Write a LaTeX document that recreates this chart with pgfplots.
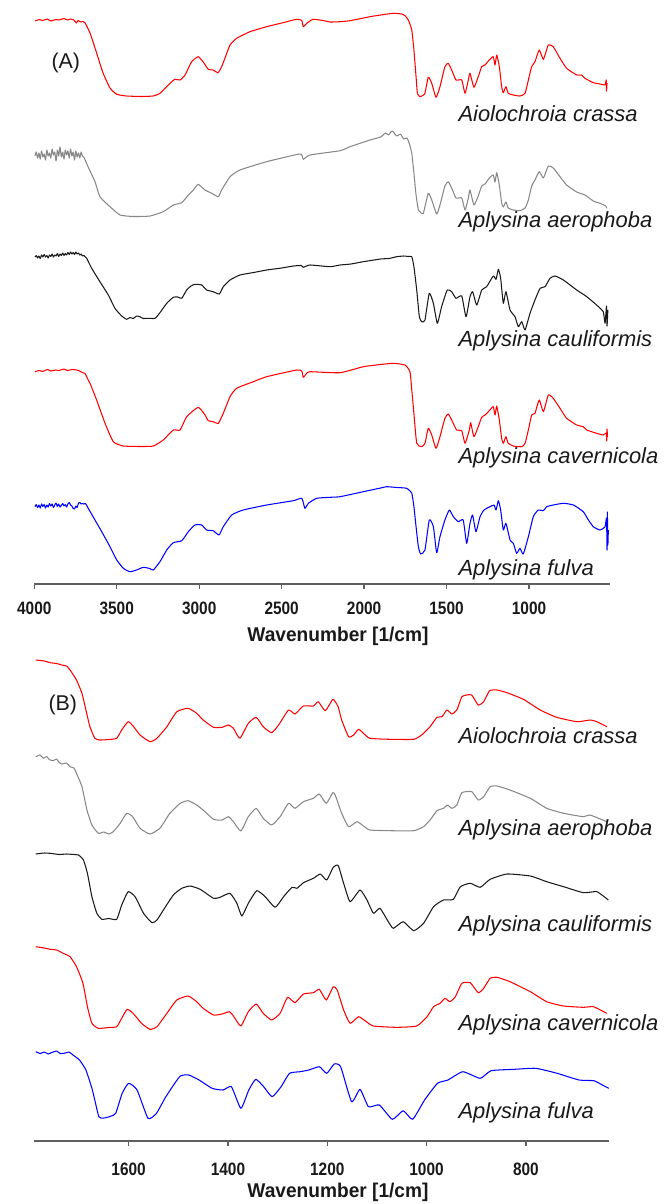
\documentclass[border=0pt]{standalone}
\usepackage{pgfplots}
\pgfplotsset{compat=1.18}
\usepackage{pgfplotstable}
\usepackage{fontspec}
\setmainfont{Liberation Sans}
\newfontfamily\tickfont[FakeStretch=0.86]{Liberation Sans}
\newfontfamily\labfont[FakeStretch=0.96]{Liberation Sans}

\definecolor{sred}{RGB}{255,0,0}
\definecolor{sgray}{RGB}{135,135,135}
\definecolor{sblack}{RGB}{25,25,25}
\definecolor{sblue}{RGB}{0,0,255}
\definecolor{axgray}{RGB}{95,95,95}

% y = row of the picture (px from the top), read off the reference
% panel A: full range
\pgfplotstableread{
w y
3996 21
3970 19.5
3950 20.5
3920 19
3900 21
3870 19.5
3850 20
3820 18.5
3800 20
3780 19
3760 20
3745 23
3735 20.5
3720 22
3705 21.5
3693 22.7
3662 33
3622 53
3583 73
3541 88
3500 94.3
3440 96
3350 96.5
3280 96
3238 93.3
3177 83.3
3147 79.3
3116 80
3086 75
3046 61.7
3006 56.7
2977 61.7
2945 69.3
2916 70
2886 72.7
2864 66.7
2844 58.3
2813 45
2773 38.3
2692 31.7
2591 26.7
2492 22.7
2409 19.3
2378 20.5
2369 26.7
2348 23.3
2310 19.3
2250 20.5
2207 22
2146 21.7
2086 20.7
1964 16.7
1900 15
1823 13.3
1772 14
1750 16
1732 20
1711 30
1698 50
1685 76.7
1677 93.3
1661 96.7
1645 95.5
1631 93.3
1611 77.3
1590 83.3
1564 97.3
1540 86.7
1510 66.7
1490 63.3
1469 70
1443 80
1408 80
1388 93.3
1368 80
1358 73.3
1334 87.3
1308 76.7
1287 66.7
1267 65
1241 60
1217 56.7
1206 65
1196 55
1180 66.7
1166 86.7
1156 92.7
1140 86.7
1126 93.3
1095 95
1055 96
1024 93.3
1004 80
984 66.7
964 61.7
938 50
913 59.3
883 45
853 46.7
812 58.3
772 68.3
711 75
681 75
661 78.3
610 82.7
570 84
539 85
532 80
530 91
527 83
}\tAa

\pgfplotstableread{
w y
3996 156
3988 152
3980 158
3972 153
3964 159
3956 151
3948 157
3940 154
3932 160
3924 150
3916 156
3908 153
3900 158
3892 149
3884 155
3876 152
3868 161
3860 150
3852 156
3844 147
3836 157
3828 152
3820 159
3812 150
3804 155
3796 151
3788 158
3780 149
3772 156
3764 152
3756 160
3748 151
3740 157
3732 153
3724 158
3716 152
3708 156
3700 157
3674 166.7
3632 181.7
3602 196.7
3541 206.7
3480 215
3400 216.5
3298 216
3218 211.7
3157 205
3106 202.7
3066 195
3036 190
3006 184.3
2965 190
2924 193.3
2884 196.7
2864 190
2813 176.7
2753 170
2591 161.7
2389 154
2369 159.3
2328 155
2146 150.7
2086 146.7
1964 140
1900 137
1870 133
1853 135
1830 131
1802 136
1780 134
1760 139
1740 138
1725 144
1711 153.3
1698 173.3
1685 195
1671 210
1661 212
1641 213.3
1611 193.3
1590 200
1560 214
1540 205
1510 186
1490 181.7
1469 188
1443 198
1408 198
1388 210
1368 198
1358 190
1334 205
1308 196
1287 186
1267 184
1241 178
1217 175
1206 182
1196 172.7
1180 185
1166 203
1156 207
1140 202
1126 208
1095 210
1055 210.7
1024 208
1004 200
984 186
964 180
938 171.7
913 178
883 166
853 168
812 176.7
772 185
711 192
661 195
610 201
570 203.3
535 206
529 208.3
}\tAb

\pgfplotstableread{
w y
3996 257
3988 255.5
3980 258
3972 256
3964 258.5
3956 255
3948 257
3940 254.5
3932 257
3924 255.5
3916 258
3908 255
3900 256.5
3892 254
3884 257
3876 255
3868 256
3860 253.5
3852 256.5
3844 254
3836 255.5
3828 253
3820 255.5
3812 253.5
3804 255
3796 252.5
3788 254.5
3780 252
3772 254
3764 252.5
3756 254.5
3748 252
3740 254
3732 253
3724 255
3716 254
3708 256
3700 255.5
3690 257
3682 258.3
3652 268.3
3602 281.7
3551 295
3511 308.3
3470 316
3440 319.3
3420 317.5
3400 318.5
3380 316
3359 316.7
3340 318.5
3309 318.3
3268 318.3
3238 312.7
3197 303.3
3157 297.3
3130 297
3106 298.3
3076 290
3050 286
3026 284.3
2985 285
2955 290
2915 291.7
2878 294
2854 286.7
2813 280
2753 275
2670 272.5
2591 270
2500 268
2429 266
2380 265.5
2369 267.3
2328 265
2207 266.7
2146 265
2080 264
2005 261.7
1900 259
1850 258.5
1802 256.7
1760 256
1730 256.5
1711 256.7
1698 266.7
1681 290
1665 316.7
1651 321.7
1631 320
1605 293.3
1580 303.3
1556 323.3
1530 306.7
1496 290
1469 291.7
1443 298.3
1408 296
1382 316.7
1358 296.7
1342 291.7
1317 305
1287 290
1257 286.7
1217 276
1200 279.3
1186 269.3
1172 278.3
1156 303.3
1140 291.7
1115 310
1085 316.7
1065 326.7
1044 321.7
1024 330
994 313.3
964 300
933 288.3
903 286.7
873 278.3
842 276
792 280
711 290
650 296.7
590 305
550 311.7
539 323.3
530 306
527 326
522 310
}\tAc

\pgfplotstableread{
w y
3996 371.7
3970 370.5
3950 371.5
3920 369.5
3900 371
3870 370
3850 370.5
3820 369
3800 370.5
3770 369.5
3743 370
3725 371
3710 372.5
3693 373.3
3673 380
3662 383.3
3622 400
3571 423.3
3521 441.7
3460 446
3350 446.5
3278 446
3218 440
3157 430
3116 430
3076 416.7
3006 407.3
2965 415
2945 420.7
2915 421.7
2884 423.3
2854 413.3
2813 396.7
2773 388.3
2672 381.7
2591 376.7
2409 370
2378 371
2369 377.3
2348 373.3
2328 371.7
2146 372.7
2005 366.7
1900 364.5
1823 363.3
1752 365
1722 371.7
1711 390
1698 413.3
1681 443.3
1651 446.7
1631 443.3
1611 428.3
1590 435
1564 448.3
1540 436.7
1510 418.3
1490 414
1469 420
1439 430
1408 430.7
1388 443.3
1362 430
1354 422.7
1334 436.7
1308 426.7
1287 417.3
1267 415
1241 410.7
1217 406.7
1206 415
1196 406
1180 420
1166 438.3
1156 443.3
1140 436.7
1126 443.3
1095 446
1044 446.7
1024 443.3
1004 430
984 415
964 413.3
938 400
913 411.7
883 395
853 398.3
812 408.3
772 418.3
711 425
671 426.7
650 430
590 433.3
550 435
532 433
529 441
527 429
524 437
}\tAd

\pgfplotstableread{
w y
3996 506.7
3988 504.5
3980 507.5
3972 505
3964 508
3956 504
3948 506.5
3940 504.5
3932 508
3924 505
3916 507
3908 503.5
3900 506
3892 504
3884 507.5
3876 505
3868 503
3860 506.5
3852 504
3844 507
3836 505.5
3828 503.5
3820 506
3812 504.5
3804 507
3796 504
3788 502.5
3780 505
3772 506
3764 508.5
3756 509
3748 506
3740 507.5
3732 503
3724 502.5
3716 504
3708 503.5
3700 504
3690 503.5
3680 506
3673 508.3
3632 520
3591 531.7
3541 546.7
3500 560
3460 568.3
3420 571.7
3380 570
3339 567.3
3300 568.5
3278 570
3238 561.7
3197 550
3157 542.7
3106 540.7
3066 531.7
3026 525
2985 525
2955 530
2915 530.7
2880 535
2854 526.7
2803 515
2733 510
2591 505
2429 500.7
2378 498.3
2359 508.3
2338 503.3
2288 498.3
2207 497.3
2146 496.7
2005 491.7
1900 488
1863 486.7
1800 487.5
1742 488.3
1711 493.3
1698 506.7
1685 526.7
1671 546.7
1657 554
1631 550
1605 520
1580 526.7
1560 552.7
1540 536.7
1510 520
1483 510
1459 516.7
1429 521.7
1399 520
1378 543.3
1358 523.3
1342 515
1322 531.7
1297 516.7
1273 510
1237 506.7
1212 505
1200 510
1186 500.7
1172 510
1156 530
1140 523.3
1115 540
1095 543.3
1075 553.3
1055 548.3
1035 554
1004 536.7
974 516.7
944 510
913 510.7
893 506.7
853 505
792 503.3
731 505
671 511.7
640 520
610 526.7
570 530
539 526.7
530 518
527 550
525 512
522 545
519 530
}\tAe

% panel B: fingerprint region
\pgfplotstableread{
w y
1787 660
1770 661
1758 662.7
1745 663.5
1735 665
1725 666
1718 670
1705 680
1694 693.3
1686 710
1678 726.7
1668 738.3
1658 740
1640 739.5
1624 738.3
1614 730
1601 721.7
1591 726
1577 735
1557 741.7
1543 738.3
1523 726.7
1503 711.7
1480 708.3
1463 713.3
1450 720
1429 727.3
1412 727.3
1399 725
1389 728.3
1376 738.3
1359 723.3
1343 717.3
1329 726.7
1312 732.7
1298 725
1278 710
1265 714
1248 706
1228 706
1218 701.7
1204 710.7
1189 699.3
1184 701.7
1178 706.7
1171 720
1157 736.7
1147 735
1137 729.3
1127 733.3
1114 738.3
1073 739.3
1026 739.3
1010 735
993 726.7
979 717.3
969 716.7
959 710
949 714
939 710
929 696.7
919 695
909 695
896 705
885 701.7
873 690.7
858 690
838 692.7
805 699.3
771 710
738 717.3
697 721.7
671 720
657 721.7
637 726.7
}\tBa

\pgfplotstableread{
w y
1787 756.7
1778 755
1772 758.3
1765 756.5
1760 759.5
1752 760.7
1745 759
1740 762.5
1735 764
1725 763
1718 766.7
1710 768
1705 773.3
1694 786.7
1684 810
1674 825
1661 833.3
1650 832
1640 834
1631 831.7
1617 823.3
1604 813.3
1592 816.7
1577 828.3
1557 834
1537 828.3
1517 813.3
1496 803.3
1480 800.7
1463 805
1450 810
1429 819.3
1412 820
1399 816.7
1389 821.7
1374 831
1359 816.7
1343 808.3
1329 818.3
1312 825
1295 816.7
1278 803.3
1265 808.3
1248 801.7
1228 798.3
1216 794
1202 803.3
1189 792.7
1184 795
1171 813.3
1157 826.7
1140 821.7
1127 826
1114 830
1073 830.7
1026 830.7
1006 826.7
993 820
979 810.7
966 808.3
958 805
949 808.3
939 805
929 792.7
909 791.7
896 800
885 796.7
872 786.7
858 786
832 790
791 798.3
758 808.3
724 813.3
684 816.7
671 815
637 821.7
}\tBb

\pgfplotstableread{
w y
1787 854
1770 853
1758 853.3
1740 854.5
1725 854
1710 854.5
1701 855
1691 860
1683 873.3
1674 896.7
1664 913.3
1654 919.3
1640 918.5
1624 919.3
1614 905
1601 891.7
1587 896.7
1570 913.3
1553 922.7
1543 920
1530 910
1510 895
1493 888.3
1476 886
1456 889.3
1429 898.3
1416 897.3
1396 893.3
1382 903.3
1372 916
1359 903.3
1342 890.7
1325 896.7
1305 907.3
1288 896.7
1271 887.3
1261 888.3
1248 882.7
1228 878.3
1214 874
1201 880
1188 867.3
1178 865.5
1167 883.3
1154 901.7
1134 890
1120 900
1107 913.3
1094 908.3
1077 921.7
1067 928.3
1047 921.7
1026 930.7
1006 923.3
986 906.7
966 900
946 899.3
932 886.7
912 883.3
892 887.3
872 879.3
838 874
791 876
758 881.7
724 886.7
684 892.7
657 891.7
634 900
}\tBc

\pgfplotstableread{
w y
1787 946.7
1770 948
1758 949.3
1745 950
1732 953.3
1718 956.7
1705 966.7
1692 983.3
1683 1006.7
1674 1023.3
1661 1028.3
1640 1027.5
1624 1026.7
1614 1018.3
1603 1009.3
1591 1013.3
1574 1023.3
1557 1029.3
1543 1026.7
1523 1013.3
1503 1000
1480 996
1463 1001.7
1450 1008.3
1429 1015
1412 1014
1397 1011.7
1388 1016.7
1374 1026
1359 1011.7
1343 1004
1329 1013.3
1312 1020
1295 1013.3
1280 997.3
1265 1002.7
1248 994
1228 992.7
1216 989.3
1202 1000
1188 986.7
1180 990
1167 1010
1154 1023.3
1137 1016.7
1124 1020.7
1107 1026
1060 1027.3
1020 1026
999 1016.7
986 1006.7
973 1003.3
963 998.3
953 1001.7
942 996.7
929 983.3
912 982.7
896 992.7
885 988.3
872 978.3
858 977.3
832 981.7
791 991.7
758 1001.7
724 1006
684 1007.3
664 1006.7
637 1013.3
}\tBd

\pgfplotstableread{
w y
1787 1051.7
1778 1053.5
1770 1052
1762 1054
1756 1052.7
1745 1051
1738 1053.5
1730 1053.3
1720 1052
1712 1055
1699 1060
1686 1070
1673 1090
1660 1116.7
1650 1118
1643 1117.3
1635 1116
1626 1113.3
1613 1093.3
1600 1083.3
1583 1090
1561 1118.3
1544 1113.3
1527 1098.3
1514 1088.3
1496 1076
1479 1075
1458 1080
1432 1088.3
1410 1090
1393 1086.7
1374 1108.3
1358 1090
1344 1079.3
1328 1086.7
1311 1096.7
1293 1086.7
1276 1073.3
1255 1071.7
1237 1070
1216 1066.7
1201 1073.3
1186 1064
1173 1066.7
1151 1101.7
1134 1089.3
1117 1106.7
1095 1105
1069 1119.3
1047 1110.7
1028 1119.3
1004 1100
978 1083.3
957 1080
927 1071.7
892 1078.3
870 1070.7
823 1069.3
780 1068.3
737 1073.3
693 1080
663 1080.7
646 1085
633 1088.3
}\tBe

\pgfplotsset{
  spec/.style={
    anchor=south west, scale only axis, clip=false,
    x dir=reverse, hide y axis, axis x line*=bottom,
    x axis line style={-, draw=axgray, line width=1.8bp},
    tick align=outside, major tick length=5bp,
    xtick style={draw=axgray, line width=1.4bp},
    xticklabel style={font=\tickfont\bfseries\fontsize{18}{20}\selectfont,
      text=black!90, anchor=base, inner sep=0pt},
    every axis plot/.append style={line width=1.05bp, no markers,
      line join=round, smooth, tension=0.3},
  },
}
\newcommand\spname[3]{\node[anchor=base west, text=black!90,
  font=\itshape\fontsize{22}{26}\selectfont] at (#1bp,-#2bp) {#3};}

\begin{document}
\begin{tikzpicture}
\useasboundingbox (0bp,0bp) rectangle (672bp,-1204bp);

\begin{axis}[spec, at={(34.3bp,-584bp)}, width=575.7bp, height=584bp,
  xmin=509, xmax=4000, ymin=-584, ymax=0,
  xtick={4000,3500,3000,2500,2000,1500,1000},
  xticklabels={4000,3500,3000,2500,2000,1500,1000},
  xticklabel style={yshift=-25bp}]
\addplot[sred] table[x=w, y expr=-\thisrow{y}] {\tAa};
\addplot[sgray] table[x=w, y expr=-\thisrow{y}] {\tAb};
\addplot[sblack] table[x=w, y expr=-\thisrow{y}] {\tAc};
\addplot[sred] table[x=w, y expr=-\thisrow{y}] {\tAd};
\addplot[sblue] table[x=w, y expr=-\thisrow{y}] {\tAe};
\end{axis}

\begin{axis}[spec, at={(34.3bp,-1141bp)}, width=575bp, height=496bp,
  xmin=632, xmax=1790, ymin=-1141, ymax=-645,
  xtick={1600,1400,1200,1000,800},
  xticklabels={1600,1400,1200,1000,800},
  xticklabel style={yshift=-29bp}]
\addplot[sred] table[x=w, y expr=-\thisrow{y}] {\tBa};
\addplot[sgray] table[x=w, y expr=-\thisrow{y}] {\tBb};
\addplot[sblack] table[x=w, y expr=-\thisrow{y}] {\tBc};
\addplot[sred] table[x=w, y expr=-\thisrow{y}] {\tBd};
\addplot[sblue] table[x=w, y expr=-\thisrow{y}] {\tBe};
\end{axis}

\node[anchor=base west, text=black!90, font=\fontsize{21.5}{24}\selectfont]
  at (48bp,-68.3bp) {(A)};
\node[anchor=base west, text=black!90, font=\fontsize{21.5}{24}\selectfont]
  at (45bp,-710bp) {(B)};

\spname{455}{121}{Aiolochroia crassa}
\spname{455}{227}{Aplysina aerophoba}
\spname{455}{346}{Aplysina cauliformis}
\spname{455}{463}{Aplysina cavernicola}
\spname{455}{575}{Aplysina fulva}
\spname{455}{743}{Aiolochroia crassa}
\spname{455}{835}{Aplysina aerophoba}
\spname{455}{931}{Aplysina cauliformis}
\spname{455}{1030}{Aplysina cavernicola}
\spname{455}{1118}{Aplysina fulva}

\node[anchor=base, text=black!90, font=\labfont\bfseries\fontsize{20}{22}\selectfont]
  at (338bp,-641bp) {Wavenumber [1/cm]};
\node[anchor=base, text=black!90, font=\labfont\bfseries\fontsize{20}{22}\selectfont]
  at (338bp,-1197bp) {Wavenumber [1/cm]};
\end{tikzpicture}
\end{document}
